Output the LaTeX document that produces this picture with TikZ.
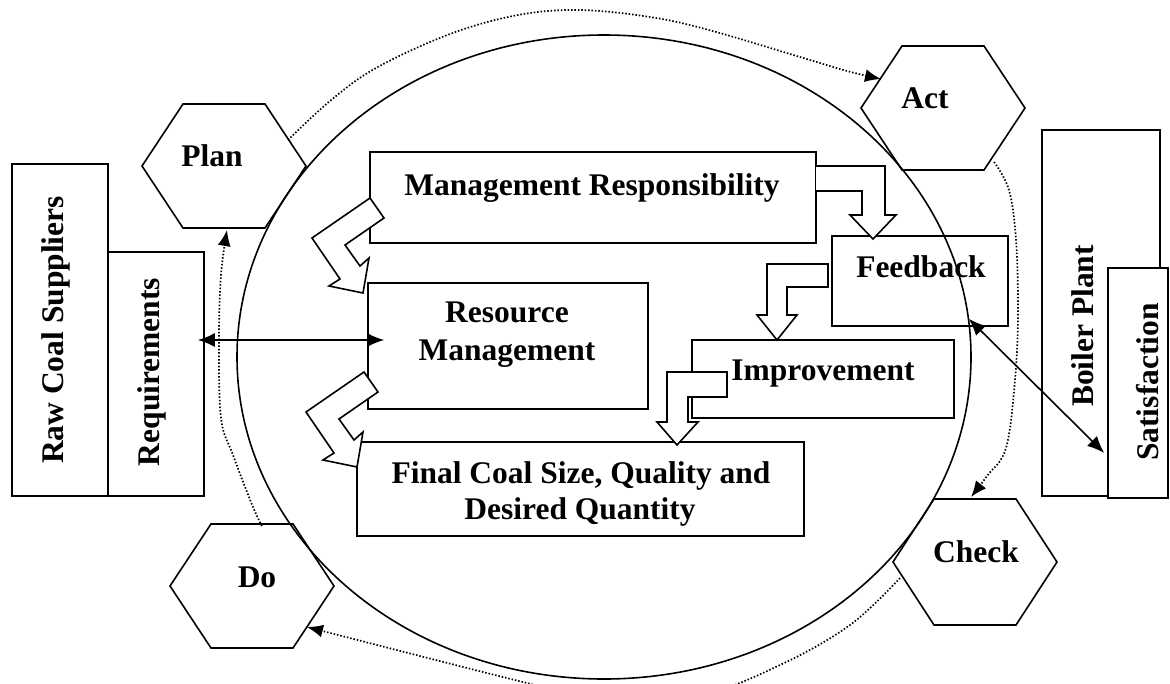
\documentclass[tikz,border=0pt]{standalone}
\usepackage{fontspec}
\setmainfont{Liberation Serif}
\usetikzlibrary{arrows.meta,calc}
\begin{document}
\begin{tikzpicture}[x=1pt,y=-1pt,
  box/.style={draw,line width=1.6pt,inner sep=0pt},
  lbl/.style={font=\fontsize{31.5}{36}\selectfont\bfseries,inner sep=0pt,anchor=base},
  blk/.style={draw,line width=1.6pt,fill=white,line join=miter,miter limit=10},
  hexa/.style={draw,line width=1.6pt,line join=miter},
  dotline/.style={line width=1.7pt,dash pattern=on 1.5pt off 1.9pt,-{Latex[length=16pt,width=13pt]}},
  dbl/.style={line width=1.6pt,{Latex[length=17pt,width=14pt]}-{Latex[length=17pt,width=14pt]}}]

\useasboundingbox (0,0) rectangle (1170,683);

% big ellipse
\draw[line width=1.6pt] (604,357) ellipse [x radius=367, y radius=322];

% boxes
\node[box,minimum width=96,minimum height=332] (rc) at (60,330) {};
\node[box,minimum width=96,minimum height=244] (req) at (156,374) {};
\node[box,minimum width=446,minimum height=91] (mr) at (593,197.5) {};
\node[box,minimum width=280,minimum height=126] (rm) at (508,346) {};
\node[box,minimum width=176,minimum height=90] (fb) at (920,281) {};
\node[box,minimum width=262,minimum height=78] (imp) at (823,379) {};
\node[box,minimum width=447,minimum height=94] (fc) at (580.5,489) {};
\node[box,minimum width=118,minimum height=366] (bp) at (1101,313) {};
\node[box,fill=white,minimum width=60,minimum height=230] (sat) at (1138,383) {};

% hexagons
\coordinate (plan) at (224,166);
\coordinate (act) at (943,108);
\coordinate (check) at (975,562);
\coordinate (do) at (252,586);
\draw[hexa,shift={(plan)}] (-82,0) -- (-41,-62) -- (41,-62) -- (82,0) -- (41,62) -- (-41,62) -- cycle;
\draw[hexa,shift={(act)}] (-82,0) -- (-41,-62) -- (41,-62) -- (82,0) -- (41,62) -- (-41,62) -- cycle;
\draw[hexa,shift={(check)}] (-82,0) -- (-41,-63) -- (41,-63) -- (82,0) -- (41,63) -- (-41,63) -- cycle;
\draw[hexa,shift={(do)}] (-82,0) -- (-41,-62) -- (41,-62) -- (82,0) -- (41,62) -- (-41,62) -- cycle;

% block arrows
\path[blk] (816,166) -- (885,166) -- (885,215) -- (896,215) -- (873,239) -- (850,215) -- (862,215) -- (862,191) -- (816,191);
\path[blk] (828,264) -- (767,264) -- (767,315) -- (757,315) -- (777,340) -- (797,315) -- (787,315) -- (787,287) -- (828,287) -- cycle;
\path[blk] (667,372) -- (727,372) -- (727,397) -- (688,397) -- (688,422) -- (698,422) -- (677,445) -- (657,422) -- (667,422) -- cycle;
\path[blk] (370,198) -- (384,218) -- (345,245) -- (360,266) -- (369,258) -- (363,293) -- (329,286) -- (340,279) -- (312,238) -- cycle;
\path[blk] (364,372) -- (378,392) -- (339,419) -- (354,440) -- (363,432) -- (357,467) -- (323,460) -- (334,453) -- (306,412) -- cycle;

% labels
\node[lbl] (tplan) at (212,166) {Plan};
\node[lbl] (tact) at (925,108) {Act};
\node[lbl] (tcheck) at (976,562) {Check};
\node[lbl] (tdo) at (257,587) {Do};
\node[lbl] (tmr) at (592,195) {Management Responsibility};
\node[lbl] (trm1) at (507,322) {Resource};
\node[lbl] (trm2) at (507,360) {Management};
\node[lbl] (tfb) at (921,277) {Feedback};
\node[lbl] (timp) at (823,380) {Improvement};
\node[lbl] (tfc1) at (581,483) {Final Coal Size, Quality and};
\node[lbl] (tfc2) at (580,519) {Desired Quantity};
\node[lbl,rotate=90] (trc) at (63,330) {Raw Coal Suppliers};
\node[lbl,rotate=90] (treq) at (159,372) {Requirements};
\node[lbl,rotate=90] (tbp) at (1093,326) {Boiler Plant};
\node[lbl,rotate=90] (tsat) at (1158,382) {Satisfaction};

% dotted PDCA cycle
\coordinate (planNE) at (288,140);
\coordinate (actW) at (881,79);
\coordinate (actSE) at (994,162);
\coordinate (checkN) at (971,497);
\coordinate (checkSW) at (900,578);
\coordinate (doSE) at (307,627);
\coordinate (doN) at (262,526);
\coordinate (planS) at (227,230);
\draw[dotline] plot[smooth,tension=0.6] coordinates {(planNE) (330,101) (376,68) (450,34) (518,15) (580,10) (650,17) (709,30) (800,57) (847,71) (actW)};
\draw[dotline] plot[smooth,tension=0.6] coordinates {(actSE) (1009,190) (1016,240) (1018,313) (1015,380) (1006,448) (987,476) (checkN)};
\draw[dotline] plot[smooth,tension=0.6] coordinates {(checkSW) (850,625) (780,665) (700,695) (600,700) (523,682) (420,656) (doSE)};
\draw[dotline] plot[smooth,tension=0.6] coordinates {(doN) (253,507) (233,455) (221,418) (219,340) (221,275) (planS)};

% double arrows
\draw[dbl] ($(req.east)+(-7,-34)$) -- ($(rm.west)+(17,-6)$);
\draw[dbl] ($(fb.south east)+(-40,-8)$) -- ($(sat.west)+(-3,70)$);
\end{tikzpicture}
\end{document}
